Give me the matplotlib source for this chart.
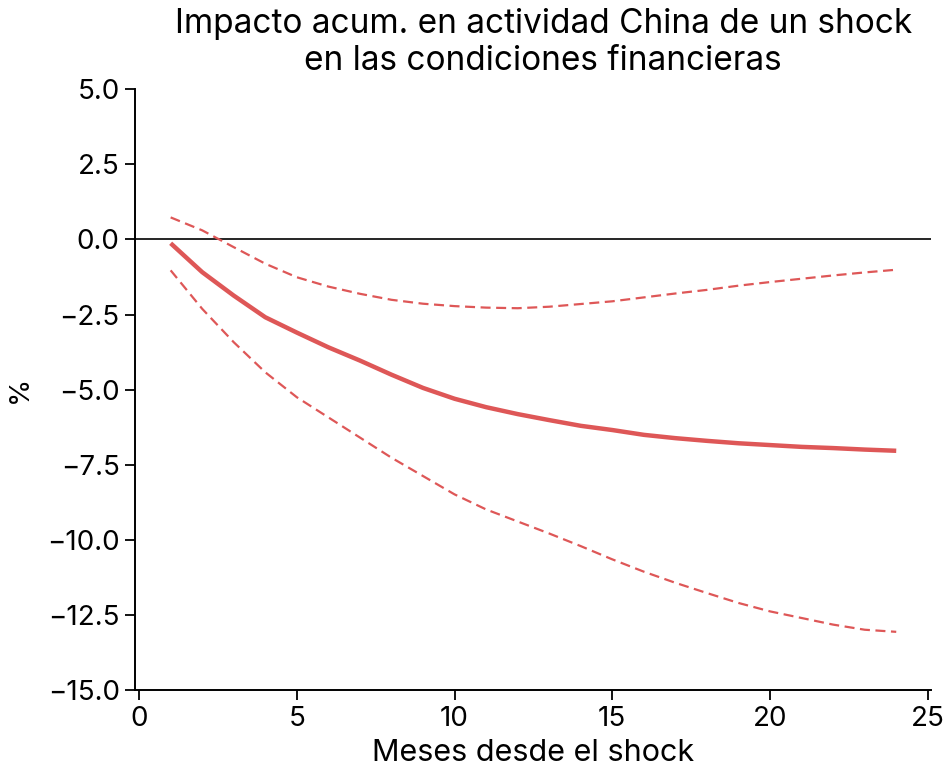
import matplotlib
matplotlib.use("Agg")
import matplotlib.pyplot as plt

plt.rcParams['font.family'] = ['Inter', 'DejaVu Sans']

months = list(range(1, 25))
impact = [-0.13, -1.09, -1.87, -2.59, -3.10, -3.59, -4.03, -4.50, -4.94, -5.30,
          -5.58, -5.81, -6.01, -6.20, -6.34, -6.50, -6.61, -6.70, -6.78, -6.84,
          -6.90, -6.94, -6.99, -7.03]
upper = [0.73, 0.30, -0.26, -0.81, -1.26, -1.57, -1.81, -2.01, -2.14, -2.22,
         -2.27, -2.29, -2.24, -2.15, -2.06, -1.93, -1.80, -1.68, -1.54, -1.42,
         -1.31, -1.20, -1.10, -1.01]
lower = [-1.03, -2.31, -3.42, -4.42, -5.25, -5.92, -6.59, -7.26, -7.87, -8.48,
         -8.98, -9.38, -9.78, -10.20, -10.64, -11.05, -11.42, -11.76, -12.09, -12.37,
         -12.59, -12.81, -12.98, -13.05]

yticks = [5.0, 2.5, 0.0, -2.5, -5.0, -7.5, -10.0, -12.5, -15.0]
xticks = [0, 5, 10, 15, 20, 25]

red = '#DE5757'

fig = plt.figure(figsize=(9.48, 7.69), dpi=100)
ax = fig.add_axes([0.1424, 0.1021, 0.8396, 0.7822])

ax.axhline(0, color='black', lw=1.2, zorder=1)
ax.plot(months, upper, color=red, lw=1.6, ls=(0, (4.5, 2.5)), zorder=2)
ax.plot(months, lower, color=red, lw=1.6, ls=(0, (4.5, 2.5)), zorder=2)
ax.plot(months, impact, color=red, lw=3.2, solid_capstyle='butt', zorder=3)

ax.set_xlim(-0.13, 25.1)
ax.set_ylim(-15, 5)
ax.set_xticks(xticks)
ax.set_yticks(yticks)
ax.set_yticklabels([f"{v:.1f}".replace('-', '\u2212') for v in yticks])

for side in ('top', 'right'):
    ax.spines[side].set_visible(False)
for side in ('left', 'bottom'):
    ax.spines[side].set_linewidth(1.4)
    ax.spines[side].set_color('black')

ax.tick_params(axis='both', direction='out', length=7, width=1.3,
               labelsize=20, colors='black', pad=4)

ax.set_xlabel('Meses desde el shock', fontsize=22, labelpad=5)
ax.set_ylabel('%', fontsize=20, labelpad=10)

fig.text(0.573, 0.989, 'Impacto acum. en actividad China de un shock\nen las condiciones financieras',
         ha='center', va='top', fontsize=24, linespacing=1.2)

fig.savefig('out.png', dpi=100)
